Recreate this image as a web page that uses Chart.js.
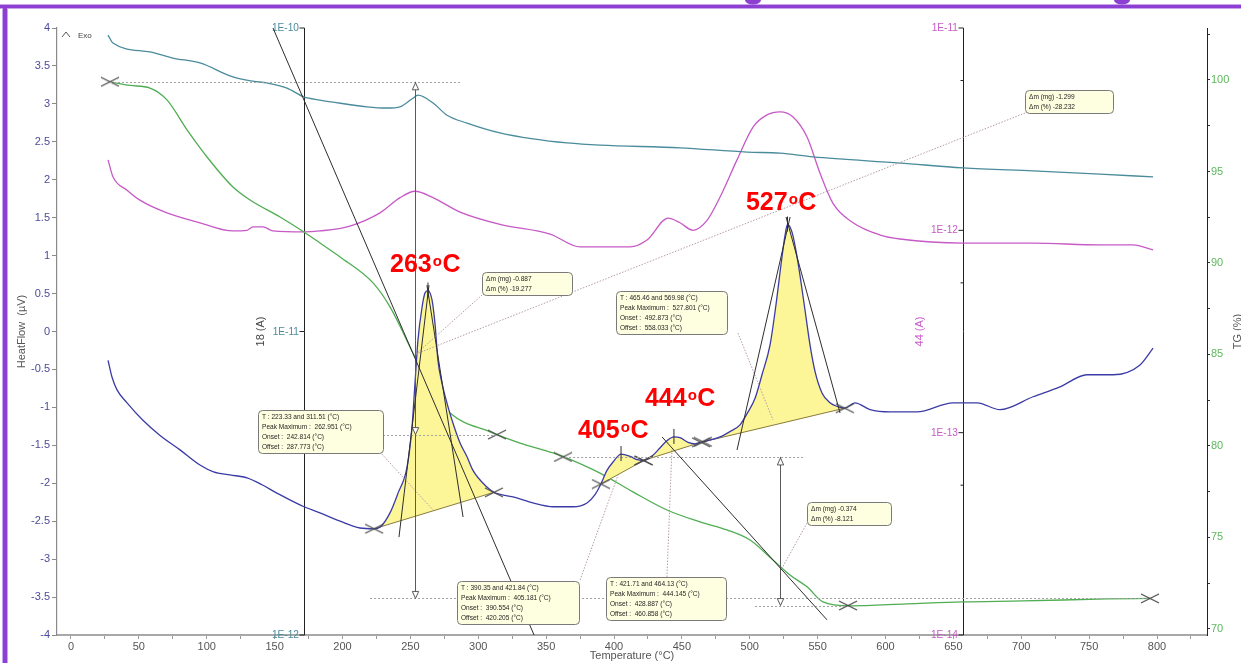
<!DOCTYPE html>
<html>
<head>
<meta charset="utf-8">
<script src="https://cdn.jsdelivr.net/npm/chart.js@4.4.1/dist/chart.umd.min.js"></script>
<style>
  html, body { margin: 0; padding: 0; background: #fff; overflow: hidden; }
  canvas { display: block; }
</style>
</head>
<body>
<canvas id="c" width="1241" height="663"></canvas>
<script>
// ---- DSC heat flow (µV) vs temperature (°C) ----
const dscT = [27.3, 30.2, 33.9, 41.3, 53.0, 65.6, 80.3, 95.0, 105.0, 117.1, 129.7, 140.7, 151.7, 171.6, 183.4, 198.2, 212.9,
  223.33, 227.6, 235.0, 240.9, 247.5, 251.2, 253.4, 255.6, 258.6, 260.8, 262.951, 265.9, 268.1, 270.3, 273.3, 276.9, 281.4,
  286.6, 291.7, 296.1, 306.4, 311.51, 325.6, 340.3, 355.1, 369.8, 380.1, 386.0, 390.35, 394.8, 399.3, 405.181, 411.8, 417.0,
  421.71, 421.84, 428.7, 433.8, 439.0, 444.145, 448.6, 454.5, 459.7, 464.13, 465.46, 478.1, 485.4, 492.8, 498.7, 503.9,
  509.0, 514.9, 519.3, 523.0, 526.0, 527.801, 531.1, 534.0, 537.0, 540.7, 544.4, 548.1, 553.2, 559.1, 564.8, 569.98,
  577.5, 588.6, 603.3, 623.2, 649.7, 667.4, 684.3, 708.7, 728.5, 748.4, 767.6, 787.5, 797.1];
const dscHF = [-0.38, -0.60, -0.77, -0.94, -1.17, -1.37, -1.56, -1.76, -1.85, -1.89, -1.93, -2.02, -2.13, -2.31, -2.39, -2.50, -2.59,
  -2.60, -2.58, -2.39, -2.13, -1.79, -1.26, -0.68, -0.11, 0.32, 0.51, 0.54, 0.42, 0.11, -0.38, -0.68, -0.94, -1.21,
  -1.47, -1.65, -1.83, -2.05, -2.12, -2.18, -2.26, -2.31, -2.31, -2.26, -2.15, -2.01, -1.83, -1.72, -1.615, -1.645, -1.69,
  -1.70, -1.70, -1.63, -1.535, -1.44, -1.39, -1.40, -1.46, -1.48, -1.46, -1.455, -1.39, -1.32, -1.23, -1.06, -0.88,
  -0.57, -0.18, 0.35, 0.88, 1.27, 1.41, 1.31, 1.07, 0.74, 0.28, -0.18, -0.53, -0.81, -0.94, -0.99, -1.01,
  -0.94, -1.03, -1.06, -1.06, -0.94, -0.94, -1.03, -0.86, -0.73, -0.57, -0.57, -0.44, -0.22];

// ---- TG mass (%) ----
const tgT = [28.7, 43.5, 58.2, 70.7, 85.5, 100.2, 119.3, 131.9, 154.0, 171.6, 183.4, 198.2, 222.5, 235.0, 251.9, 264.5,
  279.2, 308.7, 330.8, 355.1, 365.4, 389.7, 414.0, 439.0, 463.4, 483.2, 500.2, 517.1, 529.6, 542.2, 553.9, 573.8,
  615.8, 657.1, 701.3, 763.2, 794.8];
const tgPct = [99.9, 99.70, 99.56, 98.91, 97.27, 95.79, 94.15, 93.44, 92.51, 91.69, 91.09, 90.33, 88.91, 87.60, 85.08, 83.2,
  81.80, 80.77, 80.16, 79.62, 79.34, 78.52, 77.49, 76.50, 75.85, 75.41, 74.86, 73.77, 72.95, 72.30, 71.48, 71.26,
  71.37, 71.48, 71.53, 71.64, 71.67];

// ---- MS ion current m/z 18 (A) ----
const ms18T = [27.3, 30.9, 58.2, 75.1, 95.0, 119.3, 134.1, 144.4, 159.1, 171.6, 183.4, 193.0, 218.0, 232.8, 242.4, 251.9,
  255.6, 266.7, 277.0, 291.7, 316.0, 340.3, 365.4, 389.7, 448.6, 498.0, 522.3, 546.6, 610.7, 657.1, 708.7, 758.0, 797.1];
const ms18A = [9.48e-11, 8.93e-11, 8.34e-11, 7.96e-11, 7.67e-11, 6.90e-11, 6.68e-11, 6.59e-11, 6.34e-11, 5.93e-11, 5.79e-11,
  5.70e-11, 5.50e-11, 5.45e-11, 5.50e-11, 5.87e-11, 6.01e-11, 5.66e-11, 5.16e-11, 4.86e-11, 4.51e-11, 4.31e-11, 4.18e-11,
  4.11e-11, 4.03e-11, 3.90e-11, 3.87e-11, 3.76e-11, 3.59e-11, 3.46e-11, 3.38e-11, 3.30e-11, 3.23e-11];

// ---- MS ion current m/z 44 (A) ----
const ms44T = [27.3, 30.9, 41.3, 50.8, 70.7, 95.0, 119.3, 129.7, 134.1, 141.4, 148.8, 171.6, 183.4, 205.5, 227.6, 242.4,
  253.4, 266.7, 286.6, 316.0, 352.9, 375.0, 411.8, 424.3, 439.8, 448.6, 458.2, 468.5, 478.1, 490.6, 502.4, 512.7, 522.3,
  531.9, 542.2, 551.7, 561.3, 576.1, 596.0, 610.7, 657.1, 708.7, 758.0, 782.3, 797.1];
const ms44A = [2.23e-12, 1.84e-12, 1.58e-12, 1.41e-12, 1.22e-12, 1.09e-12, 9.93e-13, 1.00e-12, 1.04e-12, 1.04e-12, 9.93e-13,
  9.82e-13, 9.93e-13, 1.05e-12, 1.22e-12, 1.45e-12, 1.56e-12, 1.45e-12, 1.23e-12, 1.07e-12, 9.59e-13, 8.28e-13, 8.28e-13,
  8.95e-13, 1.15e-12, 1.09e-12, 1.00e-12, 1.12e-12, 1.46e-12, 2.23e-12, 3.24e-12, 3.72e-12, 3.85e-12, 3.63e-12, 2.89e-12,
  1.92e-12, 1.36e-12, 1.09e-12, 9.48e-13, 9.06e-13, 8.65e-13, 8.65e-13, 8.47e-13, 8.47e-13, 8.00e-13];

// ---- integrated DSC peaks ----
const peakStart = [223.33, 390.35, 421.71, 465.46];
const peakEnd = [311.51, 421.84, 464.13, 569.98];
const peakMax = [262.951, 405.181, 444.145, 527.801];
const peakOnset = [242.814, 390.554, 428.887, 492.873];
const peakOffset = [287.773, 420.205, 460.858, 558.033];
const peakNames = ['263', '405', '444', '527'];

// ---- TG step evaluation ----
const tgStartT = 28.7, tgStartPct = 99.9;
const step1EndT = 313.8, step2StartT = 362.4, step2EndT = 572.4, tgEndT = 794.8;
const step2StartPct = 79.40;
const step1DmMg = -0.887, step1DmPct = -19.277;
const totalDmMg = -1.299, totalDmPct = -28.232;
const step2DmMg = -0.374, step2DmPct = -8.121;

// ---- tick values ----
const xTicks = [0, 25, 50, 75, 100, 125, 150, 175, 200, 225, 250, 275, 300, 325, 350, 375, 400, 425, 450, 475, 500,
  525, 550, 575, 600, 625, 650, 675, 700, 725, 750, 775, 800, 825];
const hfTicks = [-4, -3.5, -3, -2.5, -2, -1.5, -1, -0.5, 0, 0.5, 1, 1.5, 2, 2.5, 3, 3.5, 4];
const tgTicks = [70, 72.5, 75, 77.5, 80, 82.5, 85, 87.5, 90, 92.5, 95, 97.5, 100, 102.5];
const ms18Ticks = [1e-12, 1e-11, 1e-10];
const ms44Ticks = [1e-14, 1e-13, 1e-12, 1e-11];
const ms44Minor = [5.5e-14, 5.5e-13, 5.5e-12];

const FONT = "'Liberation Sans', Arial, sans-serif";
Chart.defaults.font.family = FONT;

const pts = (xs, ys) => xs.map((x, i) => ({ x, y: ys[i] }));
const dscPts = pts(dscT, dscHF);
const hfAt = t => dscHF[dscT.indexOf(t)];
const tgAt = t => tgPct[tgT.indexOf(t)];

// TG levels derived from the evaluated mass changes
const step1EndPct = tgStartPct + step1DmPct;
const totalEndPct = tgStartPct + totalDmPct;
const step2EndPct = step2StartPct + step2DmPct;

// flattened "x" marker used by the evaluation points
const xMark = (() => {
  const c = document.createElement('canvas');
  c.width = 20; c.height = 11;
  const g = c.getContext('2d');
  g.strokeStyle = '#4a4a4a'; g.lineWidth = 1.2;
  g.beginPath();
  g.moveTo(1, 1); g.lineTo(19, 10);
  g.moveTo(1, 10); g.lineTo(19, 1);
  g.stroke();
  return c;
})();

const COL_DSC = '#3b3ba6', COL_TG = '#4fae52', COL_18 = '#4a8b9c', COL_44 = '#c65ac6';

const datasets = [
  { label: 'TG', data: pts(tgT, tgPct), yAxisID: 'yTG', borderColor: COL_TG, borderWidth: 1.3,
    pointRadius: 0, cubicInterpolationMode: 'monotone', fill: false, order: 6 },
  { label: '18', data: pts(ms18T, ms18A), yAxisID: 'ms18', borderColor: COL_18, borderWidth: 1.3,
    pointRadius: 0, cubicInterpolationMode: 'monotone', fill: false, order: 6 },
  { label: '44', data: pts(ms44T, ms44A), yAxisID: 'ms44', borderColor: COL_44, borderWidth: 1.3,
    pointRadius: 0, cubicInterpolationMode: 'monotone', fill: false, order: 6 }
];
const baseIdx = datasets.length + peakStart.length;
peakStart.forEach((a, i) => {
  const b = peakEnd[i];
  datasets.push({ label: 'area ' + peakNames[i], data: dscPts.filter(p => p.x >= a && p.x <= b), yAxisID: 'y',
    borderWidth: 0, borderColor: 'rgba(0,0,0,0)', pointRadius: 0, cubicInterpolationMode: 'monotone',
    backgroundColor: 'rgb(252,246,152)', fill: baseIdx + i, order: 5 });
});
peakStart.forEach((a, i) => {
  const b = peakEnd[i];
  datasets.push({ label: 'baseline ' + peakNames[i], data: [{ x: a, y: hfAt(a) }, { x: b, y: hfAt(b) }], yAxisID: 'y',
    borderColor: '#8a7c3a', borderWidth: 1, pointRadius: 0, fill: false, order: 4 });
});
datasets.push({ label: 'HeatFlow', data: dscPts, yAxisID: 'y', borderColor: COL_DSC, borderWidth: 1.3,
  pointRadius: 0, cubicInterpolationMode: 'monotone', fill: false, order: 3 });
datasets.push({ label: 'limits', data: peakStart.concat(peakEnd).map(t => ({ x: t, y: hfAt(t) })), yAxisID: 'y',
  showLine: false, pointStyle: xMark, pointRadius: 5, order: 1 });
datasets.push({ label: 'steps', yAxisID: 'yTG', showLine: false, pointStyle: xMark, pointRadius: 5, order: 1,
  data: [{ x: tgStartT, y: tgStartPct }, { x: step1EndT, y: step1EndPct }, { x: step2StartT, y: step2StartPct },
         { x: step2EndT, y: step2EndPct }, { x: tgEndT, y: totalEndPct }] });

// ---- annotation geometry, in (°C, µV) ----
const ms18AxisAt = 171.6, ms44AxisAt = 657.1;
const tangents = [
  [[148.8, 4], [341.1, -4]], [[435.4, -1.39], [556.9, -3.80]],
  [[241.6, -2.71], [263.7, 0.61]], [[262.2, 0.61], [288.8, -2.445]],
  [[490.6, -1.562], [529.7, 1.509]], [[526.7, 1.509], [566.5, -1.074]]
];
const leaders = [
  [[302.8, 0.481], [254.1, -0.297]], [[702.8, 2.880], [254.1, -0.297]],
  [[227.6, -1.588], [266.7, -2.353]], [[375.0, -3.275], [403.0, -1.891]],
  [[439.0, -3.236], [442.7, -1.535]], [[491.3, -0.020], [517.1, -1.166]],
  [[542.2, -2.524], [523.8, -3.117]]
];
const levelLines = [
  [tgStartPct, 28.7, 286.6], [step1EndPct, 224.0, 313.8], [step2StartPct, 364.0, 540.7],
  [totalEndPct, 220.3, 794.8], [step2EndPct, 503.9, 572.4]
];
const massArrows = [
  { t: 253.4, from: tgStartPct, to: totalEndPct, mid: step1EndPct },
  { t: 522.3, from: step2StartPct, to: step2EndPct }
];
const peakLabelAt = [[235.0, 0.784], [373.5, -1.404], [422.8, -0.982], [497.2, 1.601]];
const peakText = i => [
  `T : ${peakStart[i]} and ${peakEnd[i]} (°C)`,
  `Peak Maximum :  ${peakMax[i]} (°C)`,
  `Onset :  ${peakOnset[i]} (°C)`,
  `Offset :  ${peakOffset[i]} (°C)`
];
const boxes = [
  { at: [302.8, 0.784], w: 90, lines: [`Δm (mg) ${step1DmMg}`, `Δm (%) ${step1DmPct}`] },
  { at: [702.8, 3.183], w: 88, lines: [`Δm (mg) ${totalDmMg}`, `Δm (%) ${totalDmPct}`] },
  { at: [542.2, -2.247], w: 84, lines: [`Δm (mg) ${step2DmMg}`, `Δm (%) ${step2DmPct}`] },
  { at: [137.8, -1.035], w: 125, lines: peakText(0) },
  { at: [284.3, -3.288], w: 122, lines: peakText(1) },
  { at: [394.1, -3.236], w: 120, lines: peakText(2) },
  { at: [401.5, 0.534], w: 111, lines: peakText(3) }
];

function text(ctx, s, x, y, o) {
  ctx.save();
  ctx.translate(x, y);
  if (o.rot) ctx.rotate(o.rot);
  if (o.sx) ctx.scale(o.sx, 1);
  ctx.font = o.font; ctx.fillStyle = o.color;
  ctx.textAlign = o.align || 'left'; ctx.textBaseline = o.base || 'middle';
  ctx.fillText(s, 0, 0);
  ctx.restore();
}
function seg(ctx, a, b) { ctx.beginPath(); ctx.moveTo(a[0], a[1]); ctx.lineTo(b[0], b[1]); ctx.stroke(); }
function tri(ctx, x, y, up) {
  const d = up ? 7 : -7;
  ctx.beginPath(); ctx.moveTo(x, y); ctx.lineTo(x - 3.2, y + d); ctx.lineTo(x + 3.2, y + d); ctx.closePath();
  ctx.fillStyle = '#fff'; ctx.fill(); ctx.stroke();
}

function drawLogAxis(chart, scale, atT, ticks, minor, color, title) {
  const { ctx, chartArea } = chart;
  const x = Math.round(chart.scales.x.getPixelForValue(atT)) + 0.5;
  ctx.save();
  ctx.strokeStyle = '#222'; ctx.lineWidth = 1;
  seg(ctx, [x, chartArea.top], [x, chartArea.bottom]);
  ticks.forEach(v => {
    const y = scale.getPixelForValue(v);
    seg(ctx, [x - 5, y], [x, y]);
    const e = Math.round(Math.log10(v));
    text(ctx, '1E' + e, x - 5.5, y, { font: '11px ' + FONT, color, align: 'right', sx: 0.92 });
  });
  minor.forEach(v => { const y = scale.getPixelForValue(v); seg(ctx, [x - 3, y], [x, y]); });
  text(ctx, title, x - 44, (chartArea.top + chartArea.bottom) / 2,
    { font: '11px ' + FONT, color: title.startsWith('44') ? COL_44 : '#444', align: 'center', rot: -Math.PI / 2 });
  ctx.restore();
}

const annotations = {
  id: 'annotations',
  beforeDraw(chart) {
    const { ctx, width, height } = chart;
    ctx.save();
    ctx.fillStyle = '#fff'; ctx.fillRect(0, 0, width, height);
    ctx.fillStyle = '#c9a4ee'; ctx.fillRect(0, 4, width, 5); ctx.fillRect(2, 4, 6, height);
    ctx.fillStyle = '#8c3fd0'; ctx.fillRect(0, 5, width, 3); ctx.fillRect(3, 5, 4, height);
    ctx.beginPath(); ctx.ellipse(753, 0, 8, 4.5, 0, 0, Math.PI); ctx.fill();
    ctx.beginPath(); ctx.ellipse(1122, 0, 8, 4.5, 0, 0, Math.PI); ctx.fill();
    ctx.restore();
  },
  beforeDatasetsDraw(chart) {
    const s = chart.scales;
    drawLogAxis(chart, s.ms18, ms18AxisAt, ms18Ticks, [], COL_18, '18 (A)');
    drawLogAxis(chart, s.ms44, ms44AxisAt, ms44Ticks, ms44Minor, COL_44, '44 (A)');
  },
  afterDatasetsDraw(chart) {
    const { ctx, chartArea } = chart;
    const s = chart.scales;
    const P = p => [s.x.getPixelForValue(p[0]), s.y.getPixelForValue(p[1])];
    ctx.save();
    // evaluation levels
    ctx.strokeStyle = '#a3a3a3'; ctx.lineWidth = 1; ctx.setLineDash([2, 2]);
    levelLines.forEach(([pct, a, b]) => {
      const y = Math.round(s.yTG.getPixelForValue(pct)) + 0.5;
      seg(ctx, [s.x.getPixelForValue(a), y], [s.x.getPixelForValue(b), y]);
    });
    // leader lines from the result boxes
    ctx.strokeStyle = '#b79ca8'; ctx.setLineDash([1.5, 1.5]);
    leaders.forEach(([a, b]) => seg(ctx, P(a), P(b)));
    ctx.setLineDash([]);
    // mass change arrows
    ctx.strokeStyle = '#5a5a5a'; ctx.lineWidth = 1;
    massArrows.forEach(m => {
      const x = Math.round(s.x.getPixelForValue(m.t)) + 0.5;
      const y1 = s.yTG.getPixelForValue(m.from), y2 = s.yTG.getPixelForValue(m.to);
      seg(ctx, [x, y1], [x, y2]);
      tri(ctx, x, y1 + 1, true);
      tri(ctx, x, y2, false);
      if (m.mid !== undefined) tri(ctx, x, s.yTG.getPixelForValue(m.mid), false);
    });
    // tangents
    ctx.strokeStyle = '#2e2e2e'; ctx.lineWidth = 1;
    tangents.forEach(([a, b]) => seg(ctx, P(a), P(b)));
    // peak maximum ticks
    peakMax.forEach(t => {
      const x = s.x.getPixelForValue(t), y = s.y.getPixelForValue(hfAt(t));
      seg(ctx, [x, y - 8], [x, y + 7]);
    });
    // exo direction mark
    ctx.strokeStyle = '#555';
    ctx.beginPath();
    ctx.moveTo(chartArea.left + 5, chartArea.top + 9);
    ctx.lineTo(chartArea.left + 9, chartArea.top + 4);
    ctx.lineTo(chartArea.left + 13, chartArea.top + 9);
    ctx.stroke();
    text(ctx, 'Exo', chartArea.left + 21, chartArea.top + 8, { font: '8px ' + FONT, color: '#444' });
    ctx.restore();
  },
  afterDraw(chart) {
    const { ctx, chartArea } = chart;
    const s = chart.scales;
    ctx.save();
    // result boxes
    boxes.forEach(b => {
      const x = Math.round(s.x.getPixelForValue(b.at[0])) + 0.5;
      const y = Math.round(s.y.getPixelForValue(b.at[1])) + 0.5;
      const h = b.lines.length * 10 + 3;
      ctx.beginPath(); ctx.roundRect(x, y, b.w, h, 4);
      ctx.fillStyle = '#fefee0'; ctx.fill();
      ctx.strokeStyle = '#7a7a7a'; ctx.lineWidth = 1; ctx.stroke();
      b.lines.forEach((l, i) => text(ctx, l, x + 3.5, y + 6 + 10 * i,
        { font: '8px ' + FONT, color: '#1e1e1e', sx: 0.82 }));
    });
    // peak temperature labels
    peakLabelAt.forEach((p, i) => {
      const x = s.x.getPixelForValue(p[0]), y = s.y.getPixelForValue(p[1]);
      ctx.fillStyle = '#ff0000'; ctx.textAlign = 'left'; ctx.textBaseline = 'alphabetic';
      ctx.font = 'bold 25px ' + FONT;
      ctx.fillText(peakNames[i], x, y);
      const w1 = ctx.measureText(peakNames[i]).width;
      ctx.font = 'bold 15px ' + FONT;
      ctx.fillText('o', x + w1 + 1, y - 6.5);
      const w2 = ctx.measureText('o').width;
      ctx.font = 'bold 25px ' + FONT;
      ctx.fillText('C', x + w1 + w2 + 1.5, y);
    });
    // TG axis title
    text(ctx, 'TG (%)', chart.width - 3, (chartArea.top + chartArea.bottom) / 2,
      { font: '11px ' + FONT, color: '#555', align: 'center', rot: -Math.PI / 2 });
    ctx.restore();
  }
};

const tickFont = { family: FONT, size: 11 };
new Chart(document.getElementById('c'), {
  type: 'line',
  data: { datasets },
  plugins: [annotations],
  options: {
    responsive: false,
    animation: false,
    devicePixelRatio: 1,
    layout: { padding: { top: 28, left: 0, right: 0, bottom: 0 } },
    plugins: { legend: { display: false }, tooltip: { enabled: false } },
    scales: {
      x: {
        type: 'linear', position: 'bottom', min: -10.3, max: 836.8,
        afterBuildTicks: sc => { sc.ticks = xTicks.map(v => ({ value: v })); },
        afterFit: sc => { sc.height = 28; },
        ticks: { autoSkip: false, maxRotation: 0, padding: 1, color: '#555', font: tickFont,
                 callback: v => (v % 50 === 0 ? String(v) : '') },
        grid: { drawOnChartArea: false, drawTicks: true, tickLength: 4, tickColor: '#9a9a9a' },
        border: { display: true, color: '#a8a8a8', width: 2 },
        title: { display: true, text: 'Temperature (°C)', color: '#555', font: tickFont, padding: { top: 0, bottom: 0 } }
      },
      y: {
        type: 'linear', position: 'left', min: -4, max: 4,
        afterBuildTicks: sc => { sc.ticks = hfTicks.map(v => ({ value: v })); },
        afterFit: sc => { sc.width = 57; },
        ticks: { autoSkip: false, padding: 2, color: '#4b4b9b', font: tickFont, callback: v => String(v) },
        grid: { drawOnChartArea: false, drawTicks: true, tickLength: 5, tickColor: '#8a8a8a' },
        border: { display: true, color: '#8a8a8a', width: 1.2 },
        title: { display: true, text: 'HeatFlow  (µV)', color: '#555', font: tickFont, padding: { top: 15, bottom: 0 } }
      },
      yTG: {
        type: 'linear', position: 'right', min: 69.67, max: 102.84,
        afterBuildTicks: sc => { sc.ticks = tgTicks.map(v => ({ value: v })); },
        afterFit: sc => { sc.width = 34; },
        ticks: { autoSkip: false, padding: 1, color: '#5cb85c', font: tickFont,
                 callback: v => (v % 5 === 0 ? String(v) : '') },
        grid: { drawOnChartArea: false, drawTicks: true, tickLength: 3, tickColor: '#333' },
        border: { display: true, color: '#222', width: 1 },
        title: { display: false }
      },
      ms18: { type: 'logarithmic', display: false, min: 1e-12, max: 1e-10 },
      ms44: { type: 'logarithmic', display: false, min: 1e-14, max: 1e-11 }
    }
  }
});
</script>
</body>
</html>
